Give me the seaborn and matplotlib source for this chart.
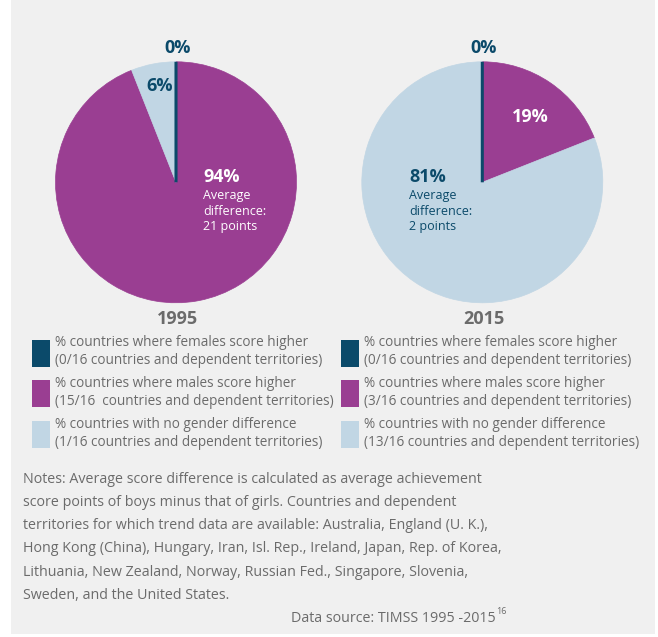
import matplotlib
matplotlib.use("Agg")
import matplotlib.pyplot as plt
import seaborn as sns
from matplotlib.patches import Patch, Rectangle

# data
categories = ["% countries where females score higher",
              "% countries where males score higher",
              "% countries with no gender difference"]
years = ["1995", "2015"]
shares_1995 = [0, 94, 6]
shares_2015 = [0, 19, 81]
counts_1995 = ["0/16", "15/16 ", "1/16"]
counts_2015 = ["0/16", "3/16", "13/16"]
avg_diff = ["21 points", "2 points"]

teal = "#0b4a6a"
purple = "#9a3e92"
light_blue = "#c1d6e4"
grey_text = "#6b6b6b"
panel = "#f0f0f0"
palette = [teal, purple, light_blue]

sns.set_theme(style="white")
plt.rcParams["font.family"] = ["Open Sans", "DejaVu Sans"]

W, H = 658, 637
fig = plt.figure(figsize=(W / 100, H / 100), dpi=100)
fig.patch.set_facecolor("white")
fig.patches.append(Rectangle((11 / W, 3 / H), 644 / W, 634 / H, transform=fig.transFigure,
                             facecolor=panel, edgecolor="none", zorder=-1))


def draw_pie(cx, shares, year, counts, diff, big_idx, label_pos, small_pos, dark_text):
    r = 120.5
    ax = fig.add_axes([(cx - r) / W, 1 - (182.3 + r) / H, 2 * r / W, 2 * r / H])
    wedges, _ = ax.pie(shares, colors=palette, startangle=90, counterclock=False,
                       wedgeprops=dict(linewidth=0.5))
    for w, c in zip(wedges, palette):
        w.set_edgecolor(c)
    # the 0% slice shows up as a thin line at 12 o'clock
    wedges[0].set_linewidth(2.2)
    wedges[0].set_zorder(5)
    ax.set_xlim(-1, 1)
    ax.set_ylim(-1, 1)
    ax.set_aspect("equal")
    ax.axis("off")

    ax.text(0.01, 1.115, f"{shares[0]}%", ha="center", va="center", fontsize=13,
            fontweight="bold", color=teal)
    txt_color = teal if dark_text else "white"
    ax.text(label_pos[0], label_pos[1], f"{shares[big_idx]}%", ha="left", va="center",
            fontsize=13, fontweight="bold", color=txt_color)
    ax.text(label_pos[0], label_pos[1] - 0.105, f"Average\ndifference:\n{diff}", ha="left",
            va="top", fontsize=9, color=txt_color, linespacing=1.25)
    small_idx = 2 if big_idx == 1 else 1
    small_color = teal if small_idx == 2 else "white"
    ax.text(small_pos[0], small_pos[1], f"{shares[small_idx]}%", ha="center", va="center",
            fontsize=13, fontweight="bold", color=small_color)
    ax.text(0.01, -1.134, year, ha="center", va="center", fontsize=13,
            fontweight="bold", color=grey_text)

    handles = [Patch(facecolor=c, edgecolor="none") for c in palette]
    labels = [f"{cat}\n({n} countries and dependent territories)"
              for cat, n in zip(categories, counts)]
    return handles, labels


h1, l1 = draw_pie(176, shares_1995, years[0], counts_1995, avg_diff[0], 1,
                  (0.224, 0.046), (-0.137, 0.80), False)
h2, l2 = draw_pie(482.3, shares_2015, years[1], counts_2015, avg_diff[1], 2,
                  (-0.608, 0.046), (0.40, 0.545), True)

for (h, l, x) in [(h1, l1, 32), (h2, l2, 341)]:
    leg = fig.legend(h, l, loc="upper left", bbox_to_anchor=(x / W, 1 - 335 / H),
                     bbox_transform=fig.transFigure, frameon=False, fontsize=9.8,
                     labelcolor=grey_text, handlelength=1.33, handleheight=2.67,
                     handletextpad=0.37, labelspacing=0.55, borderpad=0, borderaxespad=0)
    for t in leg.get_texts():
        t.set_linespacing(1.3)

notes = ("Notes: Average score difference is calculated as average achievement\n"
         "score points of boys minus that of girls. Countries and dependent\n"
         "territories for which trend data are available: Australia, England (U. K.),\n"
         "Hong Kong (China), Hungary, Iran, Isl. Rep., Ireland, Japan, Rep. of Korea,\n"
         "Lithuania, New Zealand, Norway, Russian Fed., Singapore, Slovenia,\n"
         "Sweden, and the United States.")
fig.text(23 / W, 1 - 472 / H, notes, ha="left", va="top", fontsize=10.3,
         color=grey_text, linespacing=1.74)
fig.text(496 / W, 1 - 618 / H, "Data source: TIMSS 1995 -2015", ha="right",
         va="center", fontsize=10.3, color=grey_text)
fig.text(496.5 / W, 1 - 611 / H, "16", ha="left", va="center", fontsize=6.5,
         color=grey_text)

fig.savefig("out.png", dpi=100)
